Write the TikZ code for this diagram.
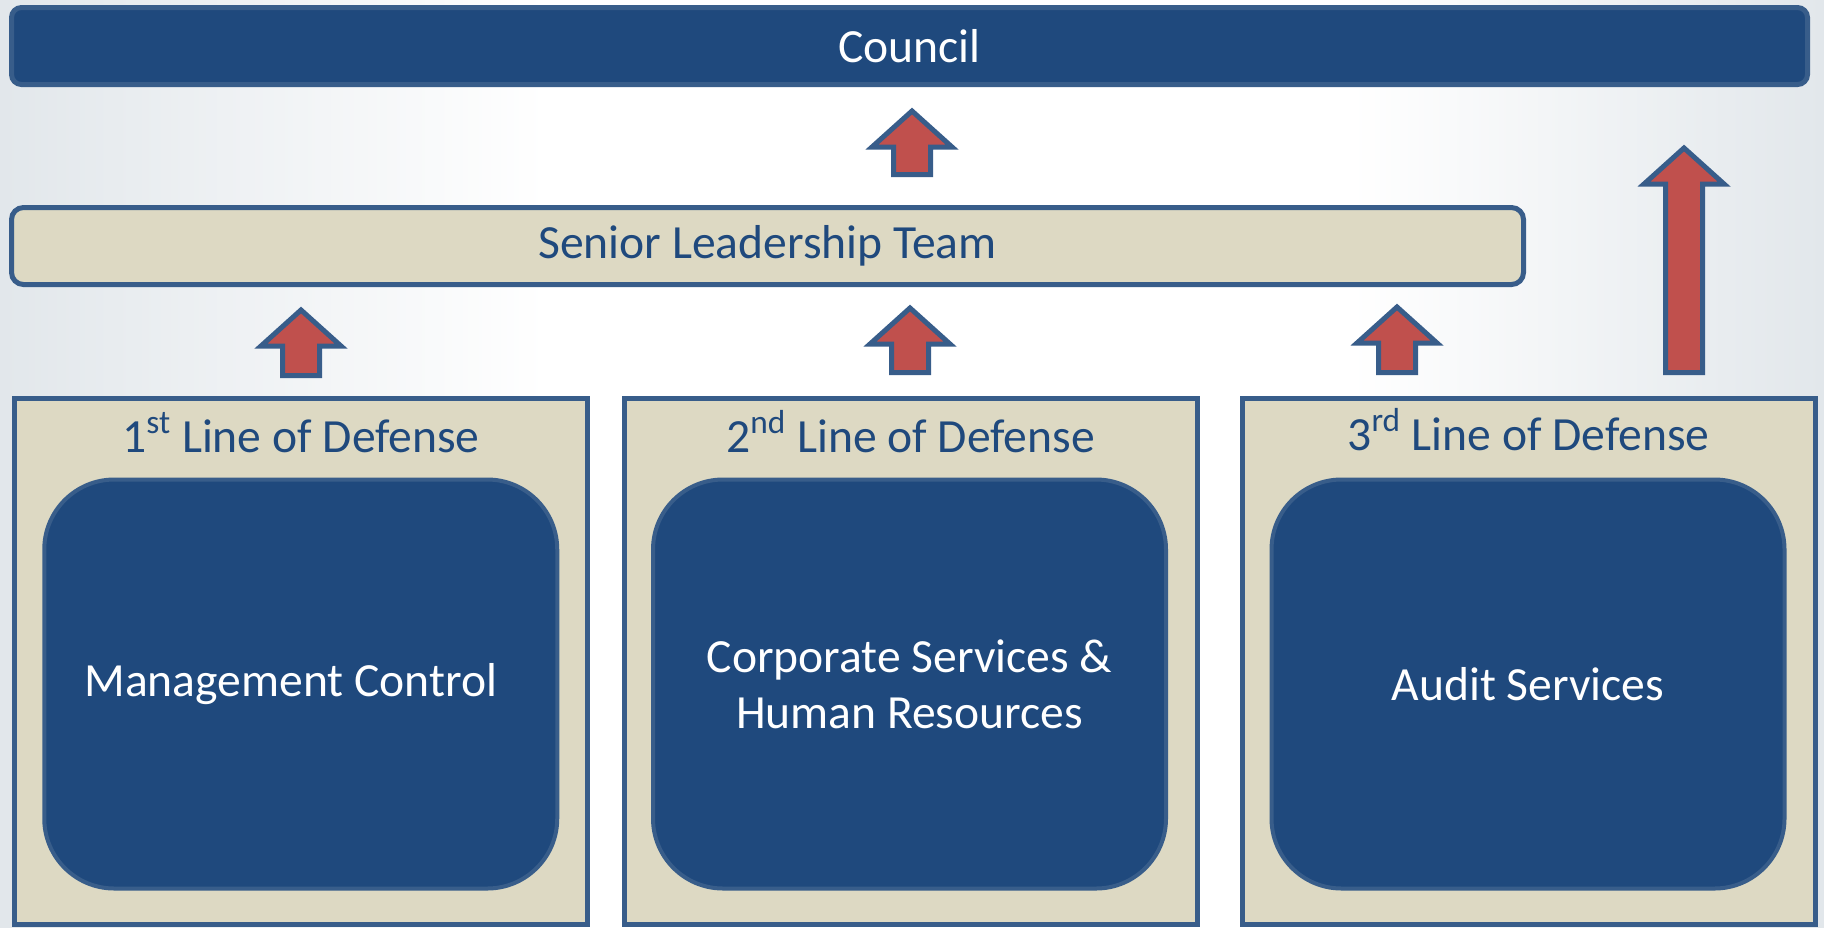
\documentclass[tikz,border=0pt]{standalone}
\usepackage{fontspec}
\setmainfont{Carlito}
\usetikzlibrary{calc}
\definecolor{darkblue}{HTML}{1F497D}
\definecolor{edgeblue}{HTML}{385D8A}
\definecolor{paper}{HTML}{DDD9C3}
\definecolor{arrowred}{HTML}{C0504D}
\definecolor{sidegray}{HTML}{E2E7EB}
\pgfdeclarehorizontalshading{backdrop}{100bp}{color(0bp)=(sidegray); color(25bp)=(sidegray);
	color(40bp)=(white); color(62bp)=(white); color(75bp)=(sidegray); color(100bp)=(sidegray)}

\begin{document}
\begin{tikzpicture}[x=0.5pt,y=-0.5pt]
	\tikzstyle{bar}=[draw=edgeblue,line width=2.5pt,rounded corners=5pt,inner sep=0pt,minimum height=38.5pt,font=\fontsize{23.8}{28}\selectfont]
	\tikzstyle{lod}=[draw=edgeblue,line width=2.5pt,fill=paper,inner sep=0pt,minimum width=286.5pt,minimum height=263pt]
	\tikzstyle{unit}=[draw=edgeblue,line width=2pt,fill=darkblue,rounded corners=35pt,minimum width=256.5pt,minimum height=204.5pt,text=white,align=center,font=\fontsize{23.8}{28}\selectfont]
	\tikzstyle{title}=[anchor=base,text=darkblue,inner sep=0pt,font=\fontsize{23.8}{28}\selectfont]
	\tikzstyle{lift}=[draw=edgeblue,line width=2.5pt,fill=arrowred,line join=miter,
		to path={let \p1=(\tikztostart), \p2=(\tikztotarget) in
			(\x1-9.25pt,\y1) -- (\x1-9.25pt,\y2-18pt) -- (\x1-20pt,\y2-18pt) -- (\x2,\y2)
			-- (\x1+20pt,\y2-18pt) -- (\x1+9.25pt,\y2-18pt) -- (\x1+9.25pt,\y1) -- cycle}]
	\useasboundingbox (0,0) rectangle (1824,927);
	\shade[shading=backdrop] (0,0) rectangle (1824,927);
	% top of the chain
	\node[bar,fill=darkblue,text=white,minimum width=898pt](council) at (909.5,46) {Council};
	\node[bar,fill=paper,text=darkblue,rounded corners=6pt,minimum width=756pt](slt) at (767.5,246) {Senior Leadership Team};
	% three lines
	\node[lod](lod1) at (301,661.5) {};
	\node[lod](lod2) at (910.5,661.5) {};
	\node[lod](lod3) at (1528.5,661.5) {};
	\node[title](t1) at (301,452) {1\textsuperscript{st} Line of Defense};
	\node[title](t2) at (910.5,452) {2\textsuperscript{nd} Line of Defense};
	\node[title](t3) at (1528.5,450) {3\textsuperscript{rd} Line of Defense};
	\node[unit](u1) at (300.75,684) {Management Control\hspace{10pt}};
	\node[unit](u2) at (909.5,684) {Corporate Services \&\\Human Resources};
	\node[unit](u3) at (1528,684) {Audit Services};
	% arrows
	\coordinate (a1s) at (301,375.5);  \coordinate (a1t) at (301,310);
	\coordinate (a2s) at (910,372.5);  \coordinate (a2t) at (910,308);
	\coordinate (a3s) at (1397,372.5); \coordinate (a3t) at (1397,307);
	\coordinate (a4s) at (912,174.5);  \coordinate (a4t) at (912,111);
	\coordinate (a5s) at (1684,372.5); \coordinate (a5t) at (1684,148);
	\draw[lift] (a1s) to (a1t);
	\draw[lift] (a2s) to (a2t);
	\draw[lift] (a3s) to (a3t);
	\draw[lift] (a4s) to (a4t);
	\draw[lift] (a5s) to (a5t);
\end{tikzpicture}
\end{document}
